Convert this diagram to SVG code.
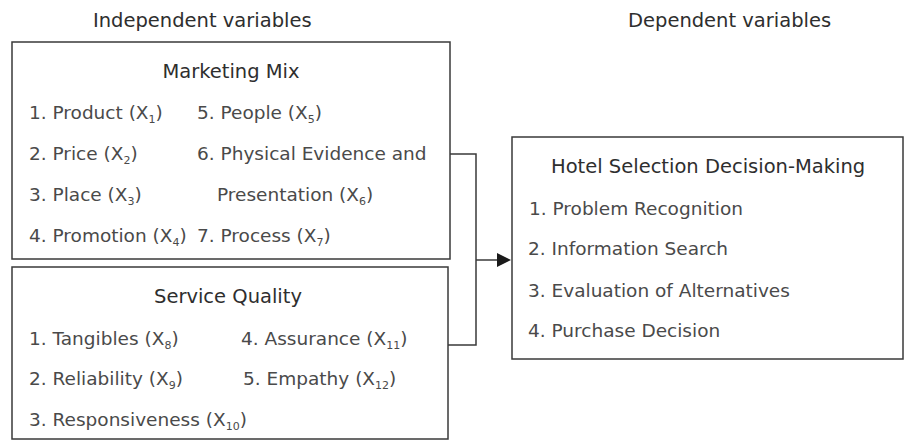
<svg xmlns="http://www.w3.org/2000/svg" width="904" height="440" viewBox="0 0 904 440">
  <style>
    .box { fill: #ffffff; stroke: #3a3a3a; stroke-width: 1.5; }
    .wire { fill: none; stroke: #3a3a3a; stroke-width: 1.5; }
    .head { font-family: "DejaVu Sans", "Open Sans", sans-serif; font-size: 19.5px; fill: #2e2e2e; }
    .title { font-family: "DejaVu Sans", "Open Sans", sans-serif; font-size: 19.5px; fill: #2e2e2e; text-anchor: middle; }
    .item { font-family: "DejaVu Sans", "Open Sans", sans-serif; font-size: 18.5px; fill: #4a4a4a; }
    .sub { font-size: 11px; }
  </style>
  <rect width="904" height="440" fill="#ffffff"/>

  <!-- Column headings -->
  <text class="head" x="93" y="27">Independent variables</text>
  <text class="head" x="628" y="27">Dependent variables</text>

  <!-- Connectors: both independent blocks join and feed the decision block -->
  <g id="connectors">
    <polyline class="wire" points="450,154 476,154 476,345 448,345"/>
    <line class="wire" x1="476" y1="260" x2="500" y2="260"/>
    <path d="M497,253 L511,260 L497,267 Z" fill="#1a1a1a"/>
  </g>

  <!-- Marketing Mix -->
  <g id="marketing-mix">
    <rect class="box" x="12" y="42" width="438" height="217"/>
    <text class="title" x="231" y="78">Marketing Mix</text>
    <text class="item" x="29" y="119">1. Product (X<tspan class="sub" dy="4">1</tspan><tspan dy="-4">)</tspan></text>
    <text class="item" x="197" y="119">5. People (X<tspan class="sub" dy="4">5</tspan><tspan dy="-4">)</tspan></text>
    <text class="item" x="29" y="160">2. Price (X<tspan class="sub" dy="4">2</tspan><tspan dy="-4">)</tspan></text>
    <text class="item" x="197" y="160">6. Physical Evidence and</text>
    <text class="item" x="29" y="201">3. Place (X<tspan class="sub" dy="4">3</tspan><tspan dy="-4">)</tspan></text>
    <text class="item" x="217" y="201">Presentation (X<tspan class="sub" dy="4">6</tspan><tspan dy="-4">)</tspan></text>
    <text class="item" x="29" y="242">4. Promotion (X<tspan class="sub" dy="4">4</tspan><tspan dy="-4">)</tspan></text>
    <text class="item" x="197" y="242">7. Process (X<tspan class="sub" dy="4">7</tspan><tspan dy="-4">)</tspan></text>
  </g>

  <!-- Service Quality -->
  <g id="service-quality">
    <rect class="box" x="12" y="267" width="436" height="172"/>
    <text class="title" x="228" y="303">Service Quality</text>
    <text class="item" x="29" y="345">1. Tangibles (X<tspan class="sub" dy="4">8</tspan><tspan dy="-4">)</tspan></text>
    <text class="item" x="241" y="345">4. Assurance (X<tspan class="sub" dy="4">11</tspan><tspan dy="-4">)</tspan></text>
    <text class="item" x="29" y="385">2. Reliability (X<tspan class="sub" dy="4">9</tspan><tspan dy="-4">)</tspan></text>
    <text class="item" x="243" y="385">5. Empathy (X<tspan class="sub" dy="4">12</tspan><tspan dy="-4">)</tspan></text>
    <text class="item" x="29" y="426">3. Responsiveness (X<tspan class="sub" dy="4">10</tspan><tspan dy="-4">)</tspan></text>
  </g>

  <!-- Hotel Selection Decision-Making -->
  <g id="hotel-selection">
    <rect class="box" x="512" y="137" width="391" height="222"/>
    <text class="head" x="551" y="173">Hotel Selection Decision-Making</text>
    <text class="item" x="529" y="215">1. Problem Recognition</text>
    <text class="item" x="528" y="255">2. Information Search</text>
    <text class="item" x="528" y="297">3. Evaluation of Alternatives</text>
    <text class="item" x="528" y="337">4. Purchase Decision</text>
  </g>
</svg>
